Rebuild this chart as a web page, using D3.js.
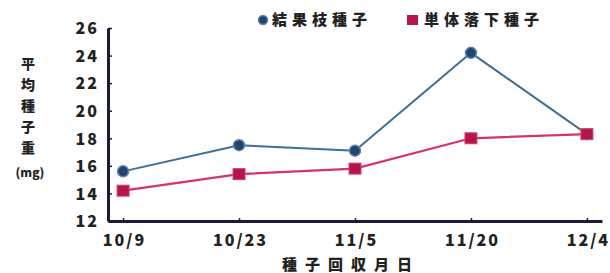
<!DOCTYPE html>
<html>
<head>
<meta charset="utf-8">
<script src="https://cdn.jsdelivr.net/npm/d3@7"></script>
<style>
  body { margin: 0; background: #fff; }
  text { font-family: "Noto Sans CJK JP", "DejaVu Sans", sans-serif; font-weight: 900; fill: #222; }
</style>
</head>
<body>
<svg id="chart" width="610" height="273"></svg>
<script>
// data
const dates = ['10/9', '10/23', '11/5', '11/20', '12/4'];
const branchSeed = [15.6, 17.5, 17.1, 24.2, 18.3];   // 結果枝種子
const fallenSeed = [14.2, 15.4, 15.8, 18.0, 18.3];   // 単体落下種子
const yTicks = [12, 14, 16, 18, 20, 22, 24, 26];
const seriesNames = ['結果枝種子', '単体落下種子'];

const svg = d3.select('#chart');
const plotL = 108, plotR = 602, plotT = 28, plotB = 221;

const x = d3.scalePoint().domain(dates).range([plotL, plotR]).padding(0.13);
const y = d3.scaleLinear().domain([12, 26]).range([plotB, plotT]);

// axes
const yAxis = svg.append('g')
  .attr('transform', `translate(${plotL},0)`)
  .call(d3.axisLeft(y).tickValues(yTicks).tickSizeInner(-4).tickSizeOuter(0).tickPadding(9));
const xAxis = svg.append('g')
  .attr('transform', `translate(0,${plotB})`)
  .call(d3.axisBottom(x).tickSizeInner(-3).tickSizeOuter(0).tickPadding(11));

[yAxis, xAxis].forEach(g => {
  g.select('.domain').attr('stroke', '#1c1c38').attr('stroke-width', 3);
  g.selectAll('.tick line').attr('stroke', '#1c1c38').attr('stroke-width', 1.5);
  g.selectAll('text').attr('font-size', 16).attr('font-family', '"DejaVu Sans", sans-serif')
    .attr('font-weight', 'bold').attr('fill', '#222').attr('letter-spacing', 2);
});
yAxis.selectAll('text').attr('dy', '0.36em');
xAxis.selectAll('text').attr('dy', '0.9em').attr('dx', 1);

// lines
const line = d3.line().x((d, i) => x(dates[i])).y(d => y(d));
svg.append('path').datum(branchSeed)
  .attr('fill', 'none').attr('stroke', '#3f6f93').attr('stroke-width', 2)
  .attr('d', line);
svg.append('path').datum(fallenSeed)
  .attr('fill', 'none').attr('stroke', '#d6336a').attr('stroke-width', 2.2)
  .attr('d', line);

// markers
svg.selectAll('.dot').data(branchSeed).join('circle')
  .attr('cx', (d, i) => x(dates[i])).attr('cy', d => y(d)).attr('r', 5.5)
  .attr('fill', '#24446e').attr('stroke', '#5a86b0').attr('stroke-width', 1.5);
svg.selectAll('.sq').data(fallenSeed).join('rect')
  .attr('x', (d, i) => x(dates[i]) - 6).attr('y', d => y(d) - 5.5)
  .attr('width', 12).attr('height', 11)
  .attr('fill', '#b3164a').attr('stroke', '#d8406e').attr('stroke-width', 1);

// legend
const lg = svg.append('g');
lg.append('circle').attr('cx', 263).attr('cy', 20).attr('r', 4.5)
  .attr('fill', '#24446e').attr('stroke', '#5a86b0').attr('stroke-width', 1.5);
lg.append('text').attr('x', 272).attr('y', 25).attr('font-size', 15)
  .attr('letter-spacing', 5).text(seriesNames[0]);
lg.append('rect').attr('x', 407).attr('y', 15).attr('width', 11).attr('height', 10)
  .attr('fill', '#b3164a');
lg.append('text').attr('x', 424).attr('y', 25).attr('font-size', 15)
  .attr('letter-spacing', 5).text(seriesNames[1]);

// y title (vertical)
const yTitle = ['平', '均', '種', '子', '重'];
svg.selectAll('.yt').data(yTitle).join('text')
  .attr('x', 28).attr('y', (d, i) => 69 + i * 21)
  .attr('text-anchor', 'middle').attr('font-size', 14).text(d => d);
svg.append('text').attr('x', 30).attr('y', 177).attr('text-anchor', 'middle')
  .attr('font-size', 12).text('(mg)');

// x title
svg.append('text').attr('x', 282).attr('y', 270).attr('font-size', 15)
  .attr('letter-spacing', 8).text('種子回収月日');
</script>
</body>
</html>
